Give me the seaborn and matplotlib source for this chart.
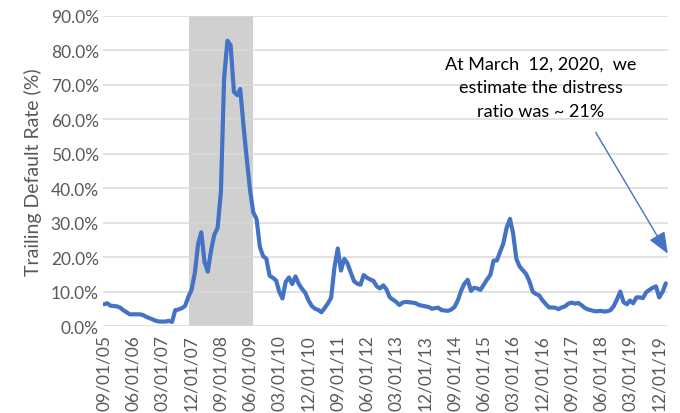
import matplotlib
matplotlib.use("Agg")
import matplotlib.pyplot as plt
import matplotlib.dates as mdates
from matplotlib.ticker import FuncFormatter, MultipleLocator
import numpy as np
import pandas as pd
import seaborn as sns

# Monthly trailing default rate (%), Sep 2005 - Feb 2020
start_month = "2005-09-01"
default_rate = [
    6.3, 6.6, 5.9, 5.8, 5.7, 5.3, 4.6, 4.0, 3.4, 3.4,
    3.4, 3.4, 3.2, 2.7, 2.3, 1.9, 1.5, 1.3, 1.3, 1.3,
    1.5, 1.2, 4.6, 4.8, 5.2, 5.8, 8.5, 10.5, 15.5, 24.0,
    27.2, 18.5, 15.8, 22.0, 26.5, 28.5, 39.0, 72.0, 82.8, 81.5,
    68.0, 67.0, 68.8, 58.0, 48.5, 39.5, 33.0, 31.1, 23.0, 20.3,
    19.5, 14.6, 14.0, 13.2, 10.0, 8.0, 12.8, 14.1, 12.2, 14.4,
    12.2, 10.8, 9.6, 7.4, 5.8, 5.0, 4.7, 4.0, 5.2, 6.6,
    8.2, 17.0, 22.5, 16.1, 19.5, 18.2, 15.5, 13.0, 12.3, 12.0,
    14.8, 14.0, 13.5, 13.1, 11.5, 10.9, 11.8, 10.6, 8.3, 7.6,
    7.0, 6.1, 6.8, 7.0, 6.9, 6.8, 6.6, 6.1, 5.9, 5.7,
    5.5, 5.0, 5.2, 5.3, 4.6, 4.5, 4.4, 4.8, 5.6, 7.5,
    10.3, 12.3, 13.4, 10.2, 11.1, 10.9, 10.5, 12.0, 13.5, 14.8,
    19.0, 19.0, 21.5, 24.0, 28.5, 31.1, 27.0, 19.5, 17.3, 16.2,
    15.1, 13.0, 10.0, 9.3, 8.9, 7.5, 6.4, 5.4, 5.4, 5.3,
    4.9, 5.4, 5.7, 6.5, 6.8, 6.5, 6.7, 6.1, 5.3, 4.8,
    4.6, 4.3, 4.3, 4.4, 4.2, 4.3, 4.6, 5.8, 7.8, 10.0,
    6.9, 6.3, 7.4, 6.6, 8.3, 8.3, 8.1, 9.8, 10.5, 11.1,
    11.5, 8.3, 9.9, 12.4,
]
months = pd.date_range(start_month, periods=len(default_rate), freq="MS")
df = pd.DataFrame({"month": months, "rate": default_rate})

# Recession period (shaded)
recession_start = "2007-12-01"
recession_end = "2009-06-01"

# Annotation: estimated distress ratio at March 12, 2020
note_text = "At March  12, 2020,  we\nestimate the distress\nratio was ~ 21%"
note_value = 21.0

BLUE = "#4472C4"
GREY_TXT = "#595959"
FONT = ["Lato", "DejaVu Sans"]

sns.set_theme(style="white")
plt.rcParams["font.family"] = FONT

fig = plt.figure(figsize=(6.8, 4.14), dpi=100)
ax = fig.add_axes([0.1515, 0.2101, 0.8305, 0.749])

pad = pd.Timedelta(days=26)
ax.axvspan(pd.Timestamp(recession_start) - pad, pd.Timestamp(recession_end) + pad,
           color="#D0D0D0", zorder=0, lw=0)

sns.lineplot(data=df, x="month", y="rate", ax=ax, color=BLUE, lw=3.0,
             zorder=3, solid_capstyle="round", solid_joinstyle="round")

ax.set_ylim(0, 90)
ax.set_xlim(pd.Timestamp("2005-08-23"), pd.Timestamp("2020-02-19"))
ax.yaxis.set_major_locator(MultipleLocator(10))
ax.yaxis.set_major_formatter(FuncFormatter(lambda v, p: f"{v:.1f}%"))

ticks = pd.date_range(start_month, "2020-01-01", freq="9MS")
ax.set_xticks(ticks)
ax.xaxis.set_major_formatter(mdates.DateFormatter("%m/%d/%y"))
plt.setp(ax.get_xticklabels(), rotation=90)

ax.grid(axis="y", color="#D9D9D9", lw=1.1, zorder=1)
ax.set_axisbelow(False)
for s in ax.spines.values():
    s.set_visible(False)
ax.tick_params(axis="both", length=0, labelsize=12.5, labelcolor=GREY_TXT)
ax.tick_params(axis="y", pad=3)
ax.tick_params(axis="x", pad=6)
ax.set_xlabel("")
ax.set_ylabel("Trailing Default Rate (%)", fontsize=14, color=GREY_TXT, labelpad=6)

# Arrow from the note down to the right edge of the plot at the estimated level
ax.annotate("", xy=(1.0, note_value), xycoords=("axes fraction", "data"),
            xytext=(pd.Timestamp("2018-04-15"), 56.2), textcoords="data",
            arrowprops=dict(arrowstyle="-|>,head_length=1.1,head_width=0.45",
                            color=BLUE, lw=1.0, shrinkA=0, shrinkB=0),
            annotation_clip=False, zorder=4)
fig.text(541 / 680, 1 - 88 / 414, note_text, ha="center", va="center",
         fontsize=13, color="black", linespacing=1.6)

fig.savefig("out.png", dpi=100)
